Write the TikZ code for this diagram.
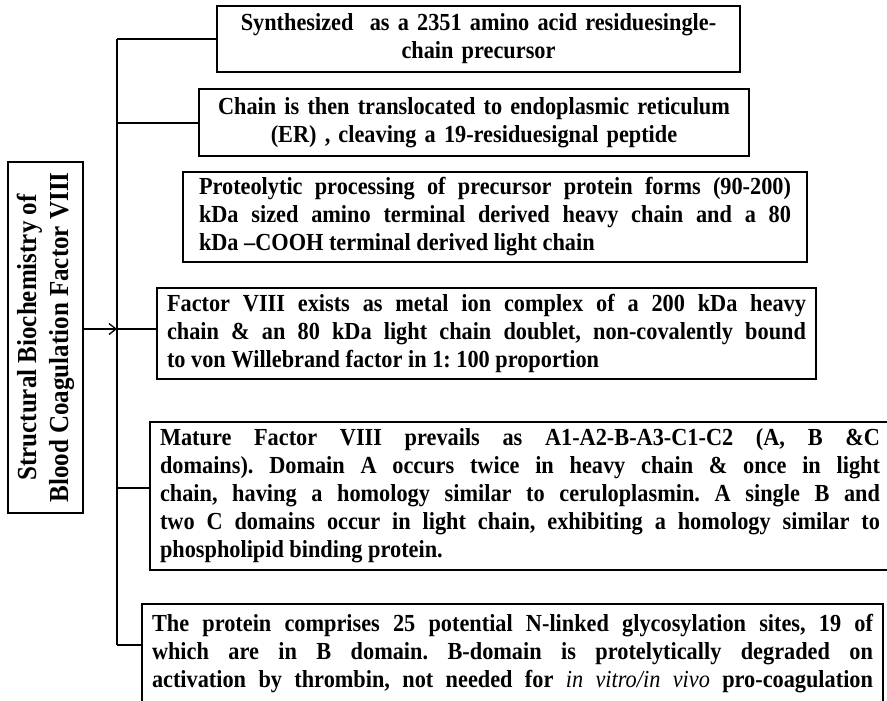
\documentclass[tikz,border=0pt]{standalone}
\usepackage{fontspec}
\setmainfont{Liberation Serif}[FakeStretch=0.91]
\usepackage{tikz}
\usetikzlibrary{arrows.meta}
\setlength{\parindent}{0pt}
\frenchspacing

% one line set as its own paragraph, stretched to the full width of the box
\newcommand{\jline}[1]{{\parfillskip=0pt\relax #1\par}}

\begin{document}
\begin{tikzpicture}[
    x=1pt, y=-1pt,
    line width=1.5pt,
    titlebox/.style={draw, rectangle, rotate=90, minimum width=351pt, minimum height=75pt, align=center, inner sep=2pt, font=\fontsize{27.5}{32}\selectfont\bfseries},
    infobox/.style={draw, rectangle, inner xsep=10pt, inner ysep=0pt, align=justify, font=\fontsize{24.5}{28}\selectfont\bfseries},
    centerbox/.style={infobox, align=center},
    barb/.style={-{Straight Barb[length=7pt, width=11pt, line width=1.3pt]}}
]
    \useasboundingbox (0,0) rectangle (887,701);

    % ================= TITLE =================
    \node[titlebox] (title) at (45.5, 337.5) {Structural Biochemistry of\\Blood Coagulation Factor VIII};

    % ================= BOXES =================
    \node[centerbox, text width=503pt, minimum height=66pt] (synth) at (478.5, 39)
        {Synthesized\ \ as a 2351 amino acid residuesingle-\\chain precursor};

    \node[centerbox, text width=530pt, minimum height=67pt] (er) at (474, 122.5)
        {Chain is then translocated to endoplasmic reticulum\\(ER) , cleaving a 19-residuesignal peptide};

    \node[infobox, inner xsep=16pt, text width=592pt, minimum height=90pt] (proc) at (495, 217)
        {\jline{Proteolytic processing of precursor protein forms (90-200)}
         \jline{kDa sized amino terminal derived heavy chain and a 80}
         kDa --COOH terminal derived light chain};

    \node[infobox, text width=639pt, minimum height=91pt] (cplx) at (486.5, 333.5)
        {\jline{Factor VIII exists as metal ion complex of a 200 kDa heavy}
         \jline{chain \& an 80 kDa light chain doublet, non-covalently bound}
         to von Willebrand factor in 1: 100 proportion};

    \node[infobox, text width=720pt, minimum height=148pt] (mature) at (520, 496)
        {\jline{Mature Factor VIII prevails as A1-A2-B-A3-C1-C2 (A, B \&C}
         \jline{domains). Domain A occurs twice in heavy chain \& once in light}
         \jline{chain, having a homology similar to ceruloplasmin. A single B and}
         \jline{two C domains occur in light chain, exhibiting a homology similar to}
         phospholipid binding protein.};

    \node[infobox, text width=721pt, minimum height=99pt] (glyco) at (512.5, 653.5)
        {\jline{The protein comprises 25 potential N-linked glycosylation sites, 19 of}
         \jline{which are in B domain. B-domain is protelytically degraded on}
         \jline{activation by thrombin, not needed for {\mdseries\itshape in vitro/in vivo} pro-coagulation}};

    % ================= SPINE & BRANCHES =================
    \coordinate (top) at (117, 39);
    \coordinate (fork2) at (117, 123);
    \coordinate (hub) at (117, 329);
    \coordinate (fork5) at (117, 488);
    \coordinate (bot) at (117, 645);

    \draw (top) -- (bot);
    \draw (top) -- (top -| synth.west);
    \draw (fork2) -- (fork2 -| er.west);
    \draw[barb] (title.south |- hub) -- (hub);
    \draw (hub) -- (hub -| cplx.west);
    \draw (fork5) -- (fork5 -| mature.west);
    \draw (bot) -- (bot -| glyco.west);

\end{tikzpicture}
\end{document}
